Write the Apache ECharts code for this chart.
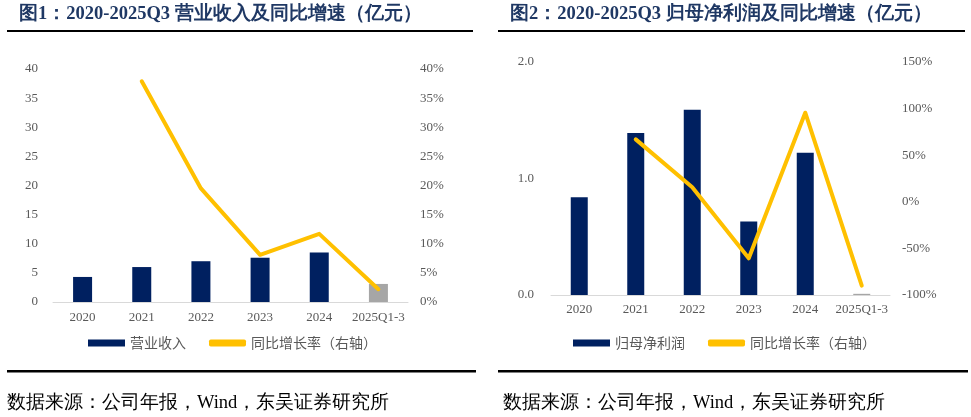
<!DOCTYPE html>
<html><head><meta charset="utf-8">
<script src="https://cdn.jsdelivr.net/npm/echarts@6/dist/echarts.min.js"></script>
<style>
html,body{margin:0;padding:0;background:#fff;}
#c1{position:absolute;left:0;top:0;width:485px;height:417px;}
#c2{position:absolute;left:485px;top:0;width:486px;height:417px;}
</style></head>
<body>
<div id="c1"></div><div id="c2"></div>
<script>
const categories = ['2020','2021','2022','2023','2024','2025Q1-3'];
const revenue = [4.3, 6.0, 7.0, 7.6, 8.5, 3.1];
const revenueYoY = [null, 37.9, 19.5, 8.1, 11.7, 2.2];
const netProfit = [0.84, 1.39, 1.59, 0.63, 1.22, 0.01];
const netProfitYoY = [null, 67, 15.6, -60.6, 95.6, -90];
const leftTicks1 = {min:0, max:40, interval:5};
const rightTicks1 = {min:0, max:40, interval:5};
const leftTicks2 = {min:0, max:2, interval:1};
const rightTicks2 = {min:-100, max:150, interval:50};

const NAVY = '#002060', GOLD = '#FFC000', GRAY = '#A6A6A6', LBL = '#595959';
const SERIF = '"Liberation Serif","Times New Roman",serif';
const CJK = '"Noto Sans CJK SC","Noto Sans",sans-serif';
const TITLE_COLOR = '#1F3864';

function build(o) {
  const barData = o.bars.map((v, i) => ({value: v, itemStyle: {color: i === o.bars.length - 1 ? GRAY : NAVY}}));
  return {
    animation: false,
    textStyle: {fontFamily: SERIF},
    grid: {left: o.grid[0], right: o.grid[1], top: o.grid[2], bottom: o.grid[3]},
    legend: {
      left: 88, top: 336, padding: 0, itemWidth: 37, itemHeight: 7, itemGap: 23,
      textStyle: {color: LBL, fontSize: 14, fontFamily: CJK},
      data: [{name: o.barName, icon: 'rect'}, {name: '同比增长率（右轴）', icon: 'roundRect'}]
    },
    xAxis: {
      type: 'category', data: categories,
      axisLine: {lineStyle: {color: '#D9D9D9', width: 1}},
      axisTick: {show: false},
      axisLabel: {color: LBL, fontSize: 13, fontFamily: SERIF, margin: o.xMargin, interval: 0}
    },
    yAxis: [
      {type: 'value', min: o.lt.min, max: o.lt.max, interval: o.lt.interval,
       splitLine: {show: false}, axisLine: {show: false}, axisTick: {show: false},
       axisLabel: {color: LBL, fontSize: 13, fontFamily: SERIF, margin: o.lMargin, formatter: o.lFmt}},
      {type: 'value', min: o.rt.min, max: o.rt.max, interval: o.rt.interval, position: 'right',
       splitLine: {show: false}, axisLine: {show: false}, axisTick: {show: false},
       axisLabel: {color: LBL, fontSize: 13, fontFamily: SERIF, margin: 12, formatter: v => v + '%'}}
    ],
    series: [
      {name: o.barName, type: 'bar', data: barData, barWidth: o.barWidth, itemStyle: {color: NAVY}},
      {name: '同比增长率（右轴）', type: 'line', yAxisIndex: 1, data: o.line, symbol: 'none',
       lineStyle: {color: GOLD, width: 4, cap: 'round', join: 'round'}, itemStyle: {color: GOLD}, connectNulls: false}
    ],
    graphic: [
      {type: 'text', left: o.titleX, top: 5, style: {text: o.title, fill: TITLE_COLOR, font: 'bold 18.5px ' + SERIF}},
      {type: 'rect', shape: {x: o.lineX[0], y: 30, width: o.lineX[1] - o.lineX[0], height: 2}, style: {fill: '#000'}},
      {type: 'rect', shape: {x: o.sepX[0], y: 370, width: o.sepX[1] - o.sepX[0], height: 2.5}, style: {fill: '#000'}},
      {type: 'text', left: o.srcX, top: 394, style: {text: '数据来源：公司年报，Wind，东吴证券研究所', fill: '#000', font: '18.5px ' + SERIF}}
    ]
  };
}

const c1 = echarts.init(document.getElementById('c1'));
c1.setOption(build({
  grid: [53, 77, 69, 115], barName: '营业收入', bars: revenue, line: revenueYoY,
  lt: leftTicks1, rt: rightTicks1, lFmt: v => v, lMargin: 15, xMargin: 9, barWidth: 19,
  title: '图1：2020-2025Q3 营业收入及同比增速（亿元）', titleX: 19, lineX: [7, 473], sepX: [7, 476], srcX: 7
}));
const c2 = echarts.init(document.getElementById('c2'));
c2.setOption(build({
  grid: [66, 81, 62, 122], barName: '归母净利润', bars: netProfit, line: netProfitYoY,
  lt: leftTicks2, rt: rightTicks2, lFmt: v => v.toFixed(1), lMargin: 17, xMargin: 8, barWidth: 17,
  title: '图2：2020-2025Q3 归母净利润及同比增速（亿元）', titleX: 25, lineX: [13, 480], sepX: [13, 483], srcX: 18
}));
</script>
</body></html>
